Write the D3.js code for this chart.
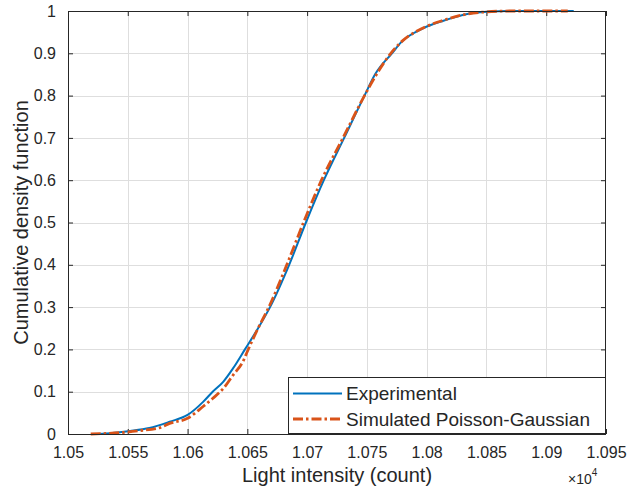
<!DOCTYPE html>
<html>
<head>
<meta charset="utf-8">
<script src="https://cdn.jsdelivr.net/npm/d3@7"></script>
<style>
  html, body { margin: 0; padding: 0; background: #fff; }
  svg { display: block; font-family: "Liberation Sans", Arial, sans-serif; }
</style>
</head>
<body>
<svg id="chart" width="630" height="491"></svg>
<script>
// Empirical CDF of measured light intensity (counts)
const expIntensity = [10520, 10535, 10552, 10568, 10585, 10600, 10613, 10621, 10630, 10638,
  10648, 10659, 10669, 10685, 10699, 10714, 10731, 10748, 10757, 10771,
  10779, 10797, 10814, 10834, 10850, 10870, 10923];
const expCdf = [0, 0.002, 0.007, 0.014, 0.029, 0.045, 0.076, 0.1, 0.124, 0.155,
  0.2, 0.25, 0.3, 0.4, 0.5, 0.6, 0.7, 0.8, 0.851, 0.9,
  0.927, 0.959, 0.977, 0.993, 0.998, 1.0, 1.0];

// CDF of the simulated Poisson-Gaussian model
const simIntensity = [10519, 10543, 10560, 10577, 10585, 10600, 10613, 10621, 10630, 10638,
  10647, 10650, 10659, 10668, 10683, 10697, 10712, 10730, 10748, 10758,
  10770, 10780, 10797, 10814, 10834, 10850, 10870, 10918];
const simCdf = [0, 0.003, 0.008, 0.015, 0.025, 0.037, 0.065, 0.084, 0.108, 0.139,
  0.175, 0.195, 0.25, 0.3, 0.4, 0.5, 0.6, 0.7, 0.8, 0.85,
  0.9, 0.93, 0.96, 0.978, 0.993, 0.998, 1.0, 1.0];

const xTicks = [10500, 10550, 10600, 10650, 10700, 10750, 10800, 10850, 10900, 10950];
const yTicks = [0, 0.1, 0.2, 0.3, 0.4, 0.5, 0.6, 0.7, 0.8, 0.9, 1];
const seriesNames = ["Experimental", "Simulated Poisson-Gaussian"];

const axisColor = "#262626";
const gridColor = "#dedede";
const blue = "#0072BD";
const orange = "#D95319";
const dashDot = "10,3,2.5,3";

const svg = d3.select("#chart");
const plotL = 68, plotR = 606, plotT = 11, plotB = 434;

const x = d3.scaleLinear().domain([10500, 10950]).range([plotL, plotR]);
const y = d3.scaleLinear().domain([0, 1]).range([plotB, plotT]);

const fmtX = d => d3.format(".4~g")(d / 1e4);
const fmtY = d => d3.format("~g")(d);

// grid
const grid = svg.append("g").attr("stroke", gridColor).attr("stroke-width", 1);
grid.selectAll(".gx").data(xTicks.slice(1, -1)).join("line")
  .attr("x1", d => Math.round(x(d)) + 0.5).attr("x2", d => Math.round(x(d)) + 0.5)
  .attr("y1", plotT).attr("y2", plotB);
grid.selectAll(".gy").data(yTicks.slice(1, -1)).join("line")
  .attr("y1", d => Math.round(y(d)) + 0.5).attr("y2", d => Math.round(y(d)) + 0.5)
  .attr("x1", plotL).attr("x2", plotR);

// axes with inward ticks on all four sides
function styleAxis(g) {
  g.select(".domain").remove();
  g.selectAll(".tick line").attr("stroke", axisColor);
  g.selectAll(".tick text").attr("fill", axisColor).style("font-size", "16px");
}
svg.append("g").attr("transform", `translate(0,${plotB})`)
  .call(d3.axisBottom(x).tickValues(xTicks).tickFormat(fmtX).tickSizeInner(-5).tickSizeOuter(0).tickPadding(13))
  .call(styleAxis);
svg.append("g").attr("transform", `translate(0,${plotT})`)
  .call(d3.axisTop(x).tickValues(xTicks).tickFormat("").tickSizeInner(-5).tickSizeOuter(0))
  .call(styleAxis);
svg.append("g").attr("transform", `translate(${plotL},0)`)
  .call(d3.axisLeft(y).tickValues(yTicks).tickFormat(fmtY).tickSizeInner(-5).tickSizeOuter(0).tickPadding(12))
  .call(styleAxis);
svg.append("g").attr("transform", `translate(${plotR},0)`)
  .call(d3.axisRight(y).tickValues(yTicks).tickFormat("").tickSizeInner(-5).tickSizeOuter(0))
  .call(styleAxis);

// curves
const line = d3.line().x(d => x(d[0])).y(d => y(d[1])).curve(d3.curveMonotoneX);
const expData = expIntensity.map((v, i) => [v, expCdf[i]]);
const simData = simIntensity.map((v, i) => [v, simCdf[i]]);

svg.append("path").datum(expData).attr("d", line)
  .attr("fill", "none").attr("stroke", blue).attr("stroke-width", 2)
  .attr("stroke-linejoin", "round");
svg.append("path").datum(simData).attr("d", line)
  .attr("fill", "none").attr("stroke", orange).attr("stroke-width", 2.8)
  .attr("stroke-dasharray", dashDot);

// axes box
svg.append("rect").attr("x", plotL + 0.5).attr("y", plotT + 0.5)
  .attr("width", plotR - plotL - 1).attr("height", plotB - plotT)
  .attr("fill", "none").attr("stroke", axisColor).attr("stroke-width", 1);

// axis labels
svg.append("text").attr("x", (plotL + plotR) / 2).attr("y", 482)
  .attr("text-anchor", "middle").attr("fill", axisColor).style("font-size", "20px")
  .text("Light intensity (count)");
svg.append("text").attr("transform", `translate(28,${(plotT + plotB) / 2}) rotate(-90)`)
  .attr("text-anchor", "middle").attr("fill", axisColor).style("font-size", "20px")
  .text("Cumulative density function");

// exponent marker
const expo = svg.append("text").attr("x", 568).attr("y", 484).attr("fill", axisColor)
  .style("font-size", "14px");
expo.append("tspan").text("×10");
expo.append("tspan").attr("dy", -8).style("font-size", "10px").text("4");

// legend
const lg = svg.append("g");
lg.append("rect").attr("x", 288.5).attr("y", 377.5).attr("width", 317).attr("height", 56)
  .attr("fill", "#fff").attr("stroke", axisColor).attr("stroke-width", 1);
const legendRows = [
  { name: seriesNames[0], color: blue, width: 2, dash: null, yy: 393.5 },
  { name: seriesNames[1], color: orange, width: 2.8, dash: dashDot, yy: 419 }
];
legendRows.forEach(r => {
  lg.append("line").attr("x1", 293).attr("x2", 342).attr("y1", r.yy).attr("y2", r.yy)
    .attr("stroke", r.color).attr("stroke-width", r.width)
    .attr("stroke-dasharray", r.dash);
  lg.append("text").attr("x", 346).attr("y", r.yy).attr("dy", "0.35em")
    .attr("fill", axisColor).style("font-size", "19px").text(r.name);
});
</script>
</body>
</html>
